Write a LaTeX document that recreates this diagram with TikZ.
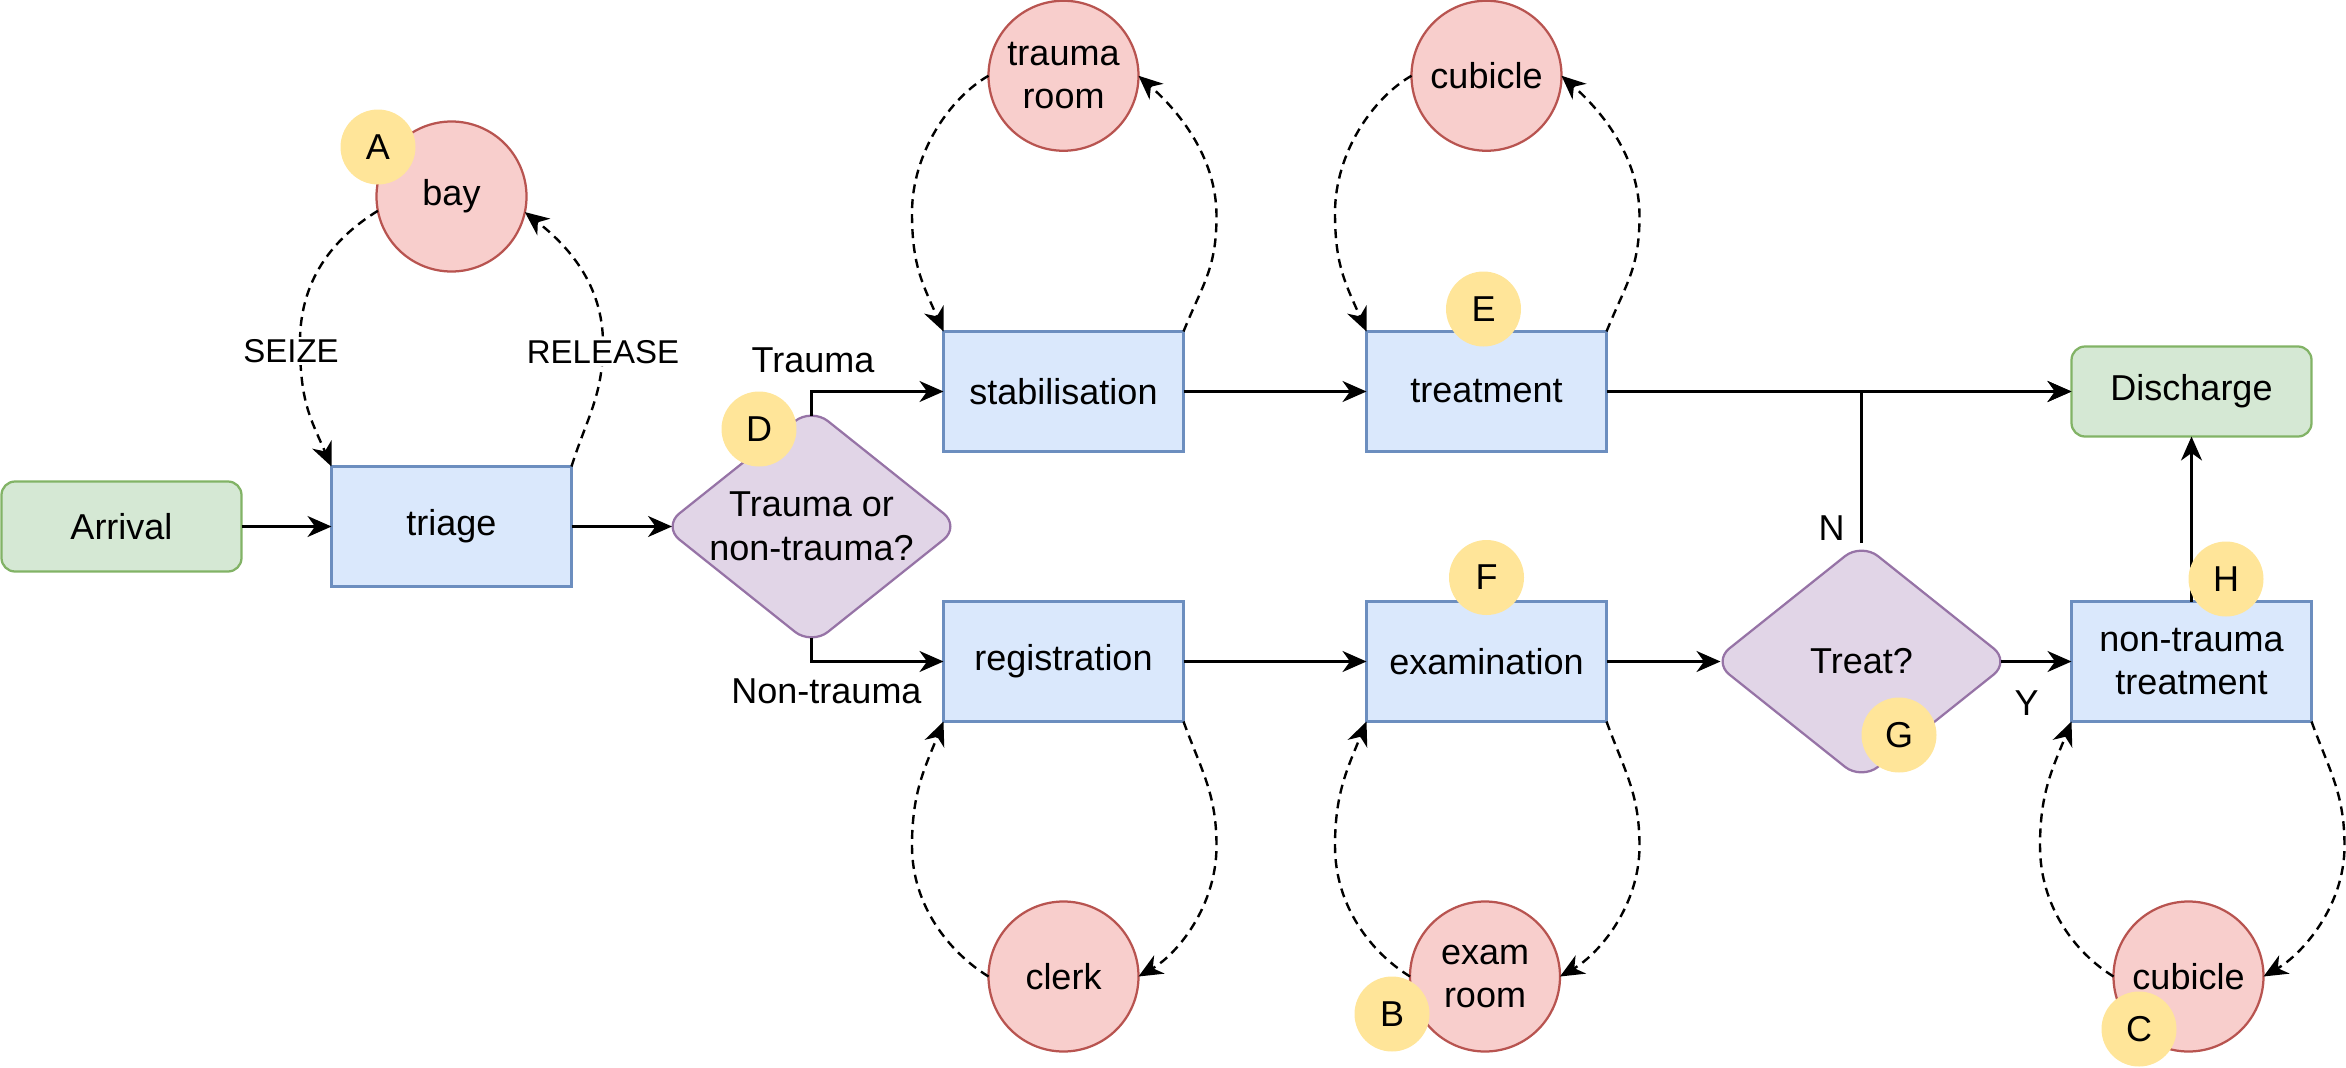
\documentclass[tikz,border=0pt]{standalone}
\usepackage{fontspec}
\setmainfont{Liberation Sans}
\usetikzlibrary{shapes.geometric,arrows.meta,calc}
\definecolor{bluef}{HTML}{DAE8FC}
\definecolor{bluel}{HTML}{6C8EBF}
\definecolor{redf}{HTML}{F8CECC}
\definecolor{redl}{HTML}{B85450}
\definecolor{greenf}{HTML}{D5E8D4}
\definecolor{greenl}{HTML}{82B366}
\definecolor{purf}{HTML}{E1D5E7}
\definecolor{purl}{HTML}{9673A6}
\definecolor{badgef}{HTML}{FFE599}
\begin{document}
\begin{tikzpicture}[x=1pt,y=-1pt,
  every node/.style={font=\fontsize{24}{29}\selectfont, inner sep=0pt, outer sep=0pt},
  proc/.style={rectangle, draw=bluel, fill=bluef, line width=1.5pt, minimum width=160pt, minimum height=80pt, align=center},
  term/.style={rectangle, rounded corners=9pt, draw=greenl, fill=greenf, line width=1.5pt, minimum width=160pt, minimum height=60pt},
  res/.style={circle, draw=redl, fill=redf, line width=1.5pt, minimum size=100pt, align=center},
  dec/.style={diamond, draw=purl, fill=purf, line width=1.5pt, minimum width=198pt, minimum height=158pt, rounded corners=14pt, align=center, inner sep=-10pt, shape aspect=1.25},
  badge/.style={circle, fill=badgef, minimum size=50pt},
  elbl/.style={font=\fontsize{22}{26}\selectfont, fill=white, inner sep=1.5pt},
  flow/.style={line width=1.5pt, -{Stealth[length=16pt,width=14pt,inset=5pt]}},
  resflow/.style={flow, line width=1.6pt, dash pattern=on 6pt off 4pt},
]
\useasboundingbox (0,0) rectangle (1564,712);

% main nodes
\node[term] (arrival) at (81,351) {Arrival};
\node[proc] (triage) at (301,351) {triage};
\node[res] (bay) at (301,131) {bay};
\node[dec] (dtr) at (541,351) {Trauma or\\non-trauma?};
\node[proc] (stab) at (709,261) {stabilisation};
\node[proc] (reg) at (709,441) {registration};
\node[res] (troom) at (709,50.5) {trauma\\room};
\node[res] (clerk) at (709,651) {clerk};
\node[proc] (treatm) at (991,261) {treatment};
\node[proc] (exam) at (991,441) {examination};
\node[res] (cubt) at (991,50.5) {cubicle};
\node[res] (examroom) at (990,651) {exam\\room};
\node[dec] (treatq) at (1241,441) {Treat?};
\node[proc] (ntt) at (1461,441) {non-trauma\\treatment};
\node[term] (disch) at (1461,261) {Discharge};
\node[res] (cubb) at (1459,651) {cubicle};

% labels
\node (ltrauma) at (542,240) {Trauma};
\node (lnontrauma) at (551,461) {Non-trauma};
\node (lN) at (1221,352) {N};
\node (lY) at (1351,469) {Y};

% solid flow
\draw[flow] (arrival) -- (triage);
\draw[flow] (triage.east) -- ($(dtr.west)+(6,0)$);
\draw[flow] ($(dtr.north)+(0,5)$) |- (stab.west);
\draw[flow] ($(dtr.south)+(0,-5)$) |- (reg.west);
\draw[flow] (stab) -- (treatm);
\draw[flow] (reg) -- (exam);
\draw[flow] (treatm.east) -- (disch.west);
\draw[flow] (exam.east) -- ($(treatq.west)+(5,0)$);
\draw[flow] (treatq.north) |- (disch.west);
\draw[flow] ($(treatq.east)+(-6,0)$) -- (ntt.west);
\draw[flow] (ntt.north) -- (disch.south);

% bay loop
\draw[resflow] (bay.191) .. controls +(-26,16) and +(0,-45) .. ($(triage.north west)+(-21,-83)$)
  node[elbl, xshift=-6pt, yshift=-6pt] {SEIZE}
  .. controls +(0,40) and +(-14,-32) .. (triage.north west);
\draw[resflow] (triage.north east) .. controls +(10,-32) and +(0,35) .. ($(triage.north east)+(21,-82)$)
  node[elbl, yshift=-6pt] {RELEASE}
  .. controls +(0,-40) and +(28,22) .. (bay.-12);

% top loops
\foreach \c/\b in {troom/stab, cubt/treatm}{
  \draw[resflow] (\c.west) .. controls +(-26,15) and +(0,-40) .. ($(\b.north west)+(-21,-79)$)
    .. controls +(0,35) and +(-14,-32) .. (\b.north west);
  \draw[resflow] (\b.north east) .. controls +(13,-32) and +(0,35) .. ($(\b.north east)+(22,-77)$)
    .. controls +(0,-40) and +(26,23) .. (\c.east);
}
% bottom loops
\foreach \c/\b in {clerk/reg, examroom/exam, cubb/ntt}{
  \draw[resflow] (\c.west) .. controls +(-26,-16) and +(0,40) .. ($(\b.south west)+(-21,83)$)
    .. controls +(0,-35) and +(-13,32) .. (\b.south west);
  \draw[resflow] (\b.south east) .. controls +(12,33) and +(0,-35) .. ($(\b.south east)+(22,83)$)
    .. controls +(0,40) and +(26,-15) .. (\c.east);
}

% badges
\node[badge] (bA) at (252,98) {A};
\node[badge] (bD) at (506,286) {D};
\node[badge] (bE) at (989,206) {E};
\node[badge] (bF) at (991,385) {F};
\node[badge] (bG) at (1266,490) {G};
\node[badge] (bH) at (1484,386) {H};
\node[badge] (bB) at (928,676) {B};
\node[badge] (bC) at (1426,686) {C};
\end{tikzpicture}
\end{document}
